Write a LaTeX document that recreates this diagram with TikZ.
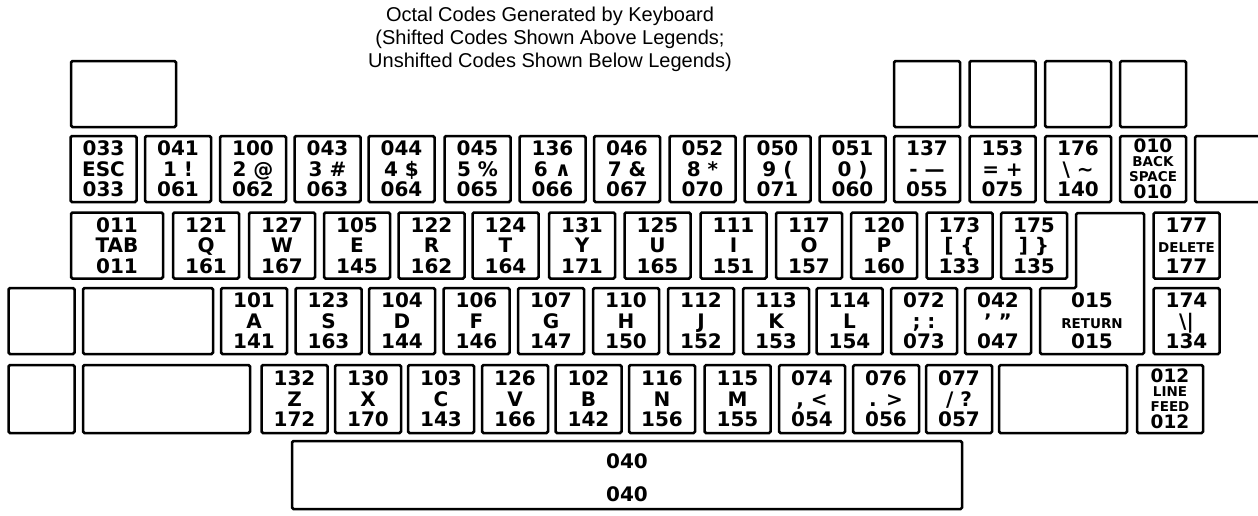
\documentclass[tikz,border=0pt]{standalone}
\usepackage{fontspec}
\setmainfont{Liberation Sans}
\newfontfamily\keyfam{DejaVu Sans}
\newcommand\keyfont{\keyfam\bfseries\fontsize{20}{20.5}\selectfont}
\newcommand\wordfont{\fontsize{13.5}{15}\selectfont}
\newcommand\codefont{\fontsize{18.5}{15}\selectfont}
\newcommand\titlefont{\fontsize{20}{23}\selectfont}
\newcommand\legendthree[3]{\raisebox{0pt}[14.5pt][41pt]{\begin{tabular}[t]{@{}c@{}}\smash{#1}\\\smash{#2}\\\smash{#3}\end{tabular}}}
\newcommand\legendfour[4]{\raisebox{0pt}[13.4pt][46pt]{\begin{tabular}[t]{@{}c@{}}\smash{\codefont #1}\\[-1pt]\smash{#2}\\\smash{#3}\\[2pt]\smash{\codefont #4}\end{tabular}}}
\newcommand\legendtwo[2]{\raisebox{0pt}[19.5pt][33pt]{\begin{tabular}[t]{@{}c@{}}\smash{#1}\\[12.5pt]\smash{#2}\end{tabular}}}
\tikzset{
    keyline/.style={line width=2.5pt, rounded corners=1.5pt},
    keycap/.style={draw, keyline, inner sep=0pt, minimum width=66pt, minimum height=66pt, font=\keyfont},
    fourline/.style={keycap, font=\keyfam\bfseries\wordfont},
    keytext/.style={inner sep=0pt, font=\keyfont},
    titleline/.style={anchor=base, inner sep=0pt, font=\titlefont}
}
\def\rowF{94}
\def\rowN{169}
\def\rowQ{245.5}
\def\rowA{321}
\def\rowZ{399}

\begin{document}
\begin{tikzpicture}[x=1pt, y=-1pt]
    \useasboundingbox (0, 0) rectangle (1258, 515);
    \clip (0, 0) rectangle (1258, 515);

    \path
        node [titleline] (title1) at (550, 21) {Octal Codes Generated by Keyboard}
        node [titleline] (title2) at (550, 44) {(Shifted Codes Shown Above Legends;}
        node [titleline] (title3) at (550, 67) {Unshifted Codes Shown Below Legends)}
    ;

    % blank keys above the number row
    \draw
        node [keycap, minimum width=105pt] (f0) at (123.5, \rowF) {}
        node [keycap] (f1) at (927, \rowF) {}
        node [keycap] (f2) at (1002.5, \rowF) {}
        node [keycap] (f3) at (1078, \rowF) {}
        node [keycap] (f4) at (1153, \rowF) {}
    ;

    % number row
    \draw
        node [keycap] (k033) at (103.5, \rowN) {\legendthree{033}{ESC}{033}}
        node [keycap] (k041) at (178, \rowN) {\legendthree{041}{1 !}{061}}
        node [keycap] (k100) at (253, \rowN) {\legendthree{100}{2 @}{062}}
        node [keycap] (k043) at (327.5, \rowN) {\legendthree{043}{3 \#}{063}}
        node [keycap] (k044) at (401.5, \rowN) {\legendthree{044}{4 \$}{064}}
        node [keycap] (k045) at (477.5, \rowN) {\legendthree{045}{5 \%}{065}}
        node [keycap] (k136) at (552.5, \rowN) {\legendthree{136}{6 ∧}{066}}
        node [keycap] (k046) at (627, \rowN) {\legendthree{046}{7 \&}{067}}
        node [keycap] (k052) at (702.5, \rowN) {\legendthree{052}{8 *}{070}}
        node [keycap] (k050) at (777.5, \rowN) {\legendthree{050}{9 (}{071}}
        node [keycap] (k051) at (852.5, \rowN) {\legendthree{051}{0 )}{060}}
        node [keycap] (k137) at (927, \rowN) {\legendthree{137}{- —}{055}}
        node [keycap] (k153) at (1002.5, \rowN) {\legendthree{153}{= +}{075}}
        node [keycap] (k176) at (1078, \rowN) {\legendthree{176}{\textbackslash{} \textasciitilde}{140}}
        node [fourline] (k010) at (1153, \rowN) {\legendfour{010}{BACK}{SPACE}{010}}
        node [keycap, minimum width=74pt] (kBlank) at (1232, \rowN) {}
    ;

    % top letter row
    \draw
        node [keycap, minimum width=92pt] (kTab) at (117, \rowQ) {\legendthree{011}{TAB}{011}}
        node [keycap] (kQ) at (206, \rowQ) {\legendthree{121}{Q}{161}}
        node [keycap] (kW) at (282, \rowQ) {\legendthree{127}{W}{167}}
        node [keycap] (kE) at (357, \rowQ) {\legendthree{105}{E}{145}}
        node [keycap] (kR) at (431.5, \rowQ) {\legendthree{122}{R}{162}}
        node [keycap] (kT) at (505.5, \rowQ) {\legendthree{124}{T}{164}}
        node [keycap] (kY) at (582, \rowQ) {\legendthree{131}{Y}{171}}
        node [keycap] (kU) at (657.5, \rowQ) {\legendthree{125}{U}{165}}
        node [keycap] (kI) at (733.5, \rowQ) {\legendthree{111}{I}{151}}
        node [keycap] (kO) at (809, \rowQ) {\legendthree{117}{O}{157}}
        node [keycap] (kP) at (884, \rowQ) {\legendthree{120}{P}{160}}
        node [keycap] (kLbrack) at (959.5, \rowQ) {\legendthree{173}{{[} \{}{133}}
        node [keycap] (kRbrack) at (1034, \rowQ) {\legendthree{175}{] \}}{135}}
        node [keycap] (kDel) at (1186.5, \rowQ) {\legendthree{177}{\wordfont DELETE}{177}}
    ;

    % return key
    \draw
        [keyline]
        (1076, 213) -- (1144, 213) -- (1144, 354) -- (1040, 354) -- (1040, 288) -- (1076, 288) -- cycle
    ;
    \node [keytext] (kRet) at (1092, 321) {\legendthree{015}{\wordfont RETURN}{015}};

    % home row
    \draw
        node [keycap] (kA0) at (41.5, \rowA) {}
        node [keycap, minimum width=130pt] (kA1) at (148, \rowA) {}
        node [keycap] (kA) at (254, \rowA) {\legendthree{101}{A}{141}}
        node [keycap] (kS) at (328.5, \rowA) {\legendthree{123}{S}{163}}
        node [keycap] (kD) at (402, \rowA) {\legendthree{104}{D}{144}}
        node [keycap] (kF) at (476.5, \rowA) {\legendthree{106}{F}{146}}
        node [keycap] (kG) at (551, \rowA) {\legendthree{107}{G}{147}}
        node [keycap] (kH) at (626, \rowA) {\legendthree{110}{H}{150}}
        node [keycap] (kJ) at (701, \rowA) {\legendthree{112}{J}{152}}
        node [keycap] (kK) at (776, \rowA) {\legendthree{113}{K}{153}}
        node [keycap] (kL) at (849.5, \rowA) {\legendthree{114}{L}{154}}
        node [keycap] (kSemi) at (924, \rowA) {\legendthree{072}{; :}{073}}
        node [keycap] (kQuote) at (998, \rowA) {\legendthree{042}{’ ”}{047}}
        node [keycap] (kPipe) at (1186.5, \rowA) {\legendthree{174}{\textbackslash|}{134}}
    ;

    % bottom letter row
    \draw
        node [keycap, minimum height=68pt] (kZ0) at (41.5, \rowZ) {}
        node [keycap, minimum height=68pt, minimum width=167pt] (kZ1) at (166.5, \rowZ) {}
        node [keycap, minimum height=68pt] (kZ) at (294.5, \rowZ) {\legendthree{132}{Z}{172}}
        node [keycap, minimum height=68pt] (kX) at (368, \rowZ) {\legendthree{130}{X}{170}}
        node [keycap, minimum height=68pt] (kC) at (441, \rowZ) {\legendthree{103}{C}{143}}
        node [keycap, minimum height=68pt] (kV) at (515, \rowZ) {\legendthree{126}{V}{166}}
        node [keycap, minimum height=68pt] (kB) at (588.5, \rowZ) {\legendthree{102}{B}{142}}
        node [keycap, minimum height=68pt] (kN) at (662, \rowZ) {\legendthree{116}{N}{156}}
        node [keycap, minimum height=68pt] (kM) at (737.5, \rowZ) {\legendthree{115}{M}{155}}
        node [keycap, minimum height=68pt] (kComma) at (812, \rowZ) {\legendthree{074}{, <}{054}}
        node [keycap, minimum height=68pt] (kPeriod) at (886, \rowZ) {\legendthree{076}{. >}{056}}
        node [keycap, minimum height=68pt] (kSlash) at (959, \rowZ) {\legendthree{077}{/ ?}{057}}
        node [keycap, minimum height=68pt, minimum width=128pt] (kZ2) at (1063, \rowZ) {}
        node [fourline, minimum height=68pt] (kLF) at (1170, \rowZ) {\legendfour{012}{LINE}{FEED}{012}}
    ;

    % space bar
    \draw
        node [keycap, minimum width=670pt, minimum height=68pt] (kSpace) at (627, 475) {\legendtwo{040}{040}}
    ;
\end{tikzpicture}
\end{document}
